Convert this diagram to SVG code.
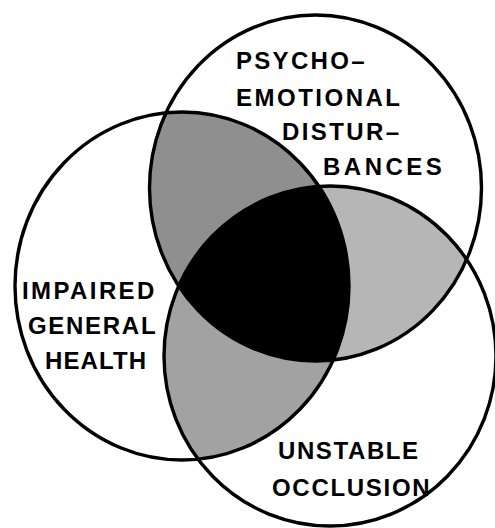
<svg xmlns="http://www.w3.org/2000/svg" width="495" height="528" viewBox="0 0 495 528">
  <style>
    .outline { fill: none; stroke: #000; stroke-width: 3.4; }
    .lbl { font-family: "Liberation Sans", Arial, sans-serif; font-weight: bold; font-size: 24px; fill: #000; }
  </style>
  <defs>
    <clipPath id="clipP"><ellipse cx="315.5" cy="188" rx="166" ry="173"/></clipPath>
    <clipPath id="clipL"><ellipse cx="182" cy="286" rx="167" ry="174"/></clipPath>
    <clipPath id="clipU"><ellipse cx="330" cy="356" rx="166" ry="170"/></clipPath>
  </defs>
  <rect width="495" height="528" fill="#fff"/>
  <g id="overlaps">
    <ellipse cx="182" cy="286" rx="167" ry="174" fill="#8f8f8f" clip-path="url(#clipP)"/>
    <ellipse cx="330" cy="356" rx="166" ry="170" fill="#b6b6b6" clip-path="url(#clipP)"/>
    <ellipse cx="330" cy="356" rx="166" ry="170" fill="#a2a2a2" clip-path="url(#clipL)"/>
    <g clip-path="url(#clipP)">
      <ellipse cx="330" cy="356" rx="166" ry="170" fill="#000" clip-path="url(#clipL)"/>
    </g>
  </g>
  <g id="psycho-emotional">
    <ellipse class="outline" cx="315.5" cy="188" rx="166" ry="173"/>
    <text class="lbl" x="236" y="69" letter-spacing="2.3">PSYCHO–</text>
    <text class="lbl" x="236" y="106" letter-spacing="2.5">EMOTIONAL</text>
    <text class="lbl" x="282" y="140" letter-spacing="2.4">DISTUR–</text>
    <text class="lbl" x="323" y="175" letter-spacing="3.5">BANCES</text>
  </g>
  <g id="impaired-health">
    <ellipse class="outline" cx="182" cy="286" rx="167" ry="174"/>
    <text class="lbl" x="22" y="299" letter-spacing="2.4">IMPAIRED</text>
    <text class="lbl" x="28" y="334" letter-spacing="1.7">GENERAL</text>
    <text class="lbl" x="45" y="369" letter-spacing="1.1">HEALTH</text>
  </g>
  <g id="unstable-occlusion">
    <ellipse class="outline" cx="330" cy="356" rx="166" ry="170"/>
    <text class="lbl" x="278" y="459" letter-spacing="1.6">UNSTABLE</text>
    <text class="lbl" x="272" y="496" letter-spacing="1.7">OCCLUSION</text>
  </g>
  <g id="connectors"/>
</svg>
